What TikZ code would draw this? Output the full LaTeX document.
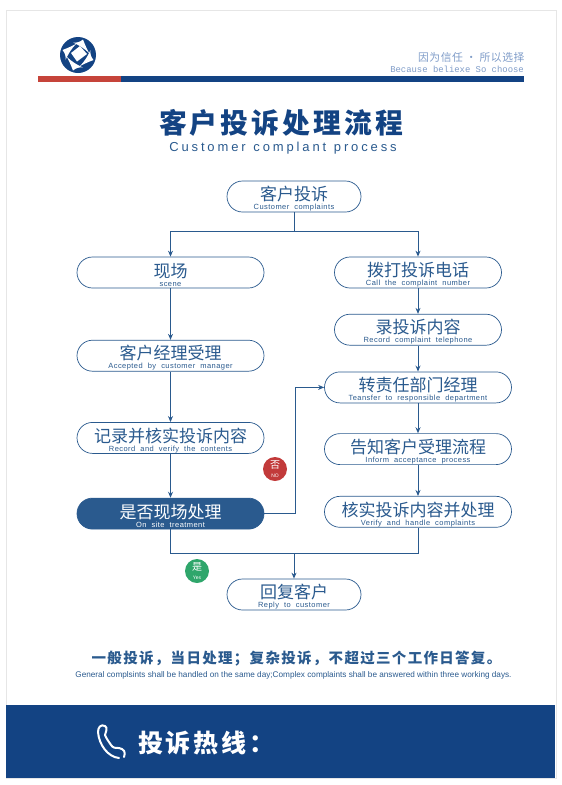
\documentclass[tikz,border=0pt]{standalone}
\usepackage{fontspec}
\usepackage{xcolor}
\usepackage{tikz}
\usetikzlibrary{arrows.meta, positioning, calc}
\setmainfont{Liberation Sans}
\newfontfamily\zhfont{Noto Sans CJK SC}
\newfontfamily\enfont[LetterSpace=6,WordSpace=2]{Liberation Sans}
\newfontfamily\titleen[LetterSpace=22,WordSpace=1.2]{Liberation Sans}
\newfontfamily\titlezh[LetterSpace=11]{Noto Sans CJK SC}
\newfontfamily\notezh[LetterSpace=9]{Noto Sans CJK SC}
\newfontfamily\sloganzh[LetterSpace=5]{Noto Sans CJK SC}
\newfontfamily\sloganen{Liberation Mono}
\definecolor{navyblue}{HTML}{134383}
\definecolor{flowblue}{HTML}{2A5A8E}
\definecolor{paleblue}{HTML}{7F9CC8}
\definecolor{barred}{HTML}{C6443A}
\definecolor{nored}{HTML}{C23A3A}
\definecolor{yesgreen}{HTML}{2FA66B}
\definecolor{edgegrey}{HTML}{E6E6E6}
\tikzstyle{flowbox} = [rectangle, rounded corners=15.5pt, minimum width=187pt, minimum height=31pt,
  inner sep=0pt, align=center, draw=flowblue, fill=white, text=flowblue, line width=0.7pt]
\tikzstyle{shortbox} = [flowbox, minimum width=134pt]
\tikzstyle{midbox} = [flowbox, minimum width=167pt]
\tikzstyle{darkbox} = [flowbox, fill=flowblue, text=white]
\tikzstyle{badge} = [circle, minimum size=24pt, inner sep=0pt, align=center, text=white]
\tikzstyle{arrow} = [draw=flowblue, line width=0.9pt, -{Stealth[length=6pt,width=5pt]}]
\tikzstyle{line} = [draw=flowblue, line width=0.9pt]
\newcommand{\flowtext}[2]{{\zhfont\fontsize{17}{17}\selectfont\rule{0pt}{19pt}#1}\\[-3pt]{\enfont\fontsize{7.5}{8}\selectfont #2}}

\begin{document}
\begin{tikzpicture}[x=1pt, y=-1pt]
  \useasboundingbox (0,0) rectangle (562,785);
  \draw[edgegrey, line width=0.8pt] (6,10) rectangle (556,778);

  % header
  \fill[barred] (38,76) rectangle (121,82);
  \fill[navyblue] (121,76) rectangle (524,82);
  \fill[navyblue] (78,55) circle (18);
  \fill[white] (80,46) -- (87,54) -- (77,61.5) -- (71,53) -- cycle;
  \foreach \a in {0,90,180,270} {
    \fill[white, rotate around={\a:(78,55)}] (62.5,50) .. controls (69,47.5) and (72,46) .. (76,44)
      .. controls (72,48) and (68,54) .. (65.5,60) .. controls (66,56) and (65,53) .. (62.5,50) -- cycle;
  }
  \node (slogan) [anchor=east, text=paleblue, font=\sloganzh\fontsize{10.8}{12}\selectfont] at (528,57) {因为信任 · 所以选择};
  \node (sloganen) [anchor=east, text=paleblue, font=\sloganen\fontsize{8.9}{10}\selectfont, inner sep=0pt] at (524,69) {Because beliexe So choose};
  \node (title) [text=navyblue, font=\titlezh\bfseries\fontsize{27.8}{30}\selectfont, inner sep=0pt] at (281,123) {客户投诉处理流程};
  \node (subtitle) [text=flowblue, font=\titleen\fontsize{13}{14}\selectfont, inner sep=0pt] at (283,148) {Customer complant process};

  % flow nodes
  \node (complaint) [shortbox] at (294,196.5) {\flowtext{客户投诉}{Customer complaints}};
  \node (scene) [flowbox] at (170.5,272.5) {\flowtext{现场}{scene}};
  \node (manager) [flowbox, below=51.5pt of scene] {\flowtext{客户经理受理}{Accepted by customer manager}};
  \node (record) [flowbox, below=50.5pt of manager] {\flowtext{记录并核实投诉内容}{Record and verify the contents}};
  \node (onsite) [darkbox, below=44pt of record] {\flowtext{是否现场处理}{On site treatment}};
  \node (reply) [shortbox] at (294,594.5) {\flowtext{回复客户}{Reply to customer}};
  \node (call) [midbox] at (418,272.5) {\flowtext{拨打投诉电话}{Call the complaint number}};
  \node (content) [midbox, below=25.5pt of call] {\flowtext{录投诉内容}{Record complaint telephone}};
  \node (transfer) [flowbox, below=26pt of content] {\flowtext{转责任部门经理}{Teansfer to responsible department}};
  \node (inform) [flowbox, below=30pt of transfer] {\flowtext{告知客户受理流程}{Inform acceptance process}};
  \node (verify) [flowbox, below=31pt of inform] {\flowtext{核实投诉内容并处理}{Verify and handle complaints}};
  \node (nobadge) [badge, fill=nored] at (275,469) {{\zhfont\fontsize{10}{10}\selectfont 否}\\[-3pt]{\fontsize{5}{5}\selectfont NO}};
  \node (yesbadge) [badge, fill=yesgreen] at (197,571) {{\zhfont\fontsize{10}{10}\selectfont 是}\\[-3pt]{\fontsize{5}{5}\selectfont Yes}};

  \coordinate (split) at ($(complaint.south)+(0,19)$);
  \coordinate (merge) at ($(reply.north)+(0,-25)$);

  \draw[line]  (complaint.south) -- (split);
  \draw[arrow] (split) -| (scene.north);
  \draw[arrow] (split) -| (call.north);
  \draw[arrow] (scene) -- (manager);
  \draw[arrow] (manager) -- (record);
  \draw[arrow] (record) -- (onsite);
  \draw[arrow] (call) -- (content);
  \draw[arrow] (content) -- (transfer);
  \draw[arrow] (transfer) -- (inform);
  \draw[arrow] (inform) -- (verify);
  \draw[arrow] (onsite.east) -- ++(31,0) |- (transfer.west);
  \draw[line]  (onsite.south) |- (merge);
  \draw[line]  (verify.south) |- (merge);
  \draw[arrow] (merge) -- (reply.north);

  % note and hotline
  \node (note) [text=flowblue, font=\notezh\bfseries\fontsize{14.5}{16}\selectfont, inner sep=0pt] at (296.5,659) {一般投诉，当日处理；复杂投诉，不超过三个工作日答复。};
  \node (noteen) [text=flowblue, font=\fontsize{8.2}{9}\selectfont, inner sep=0pt] at (293.5,675) {General complsints shall be handled on the same day;Complex complaints shall be answered within three working days.};
  \fill[navyblue] (6,705) rectangle (555,778);
  \draw[white, line width=2pt, line cap=round, line join=round] (124,757) .. controls (126,752) and (124,749) .. (119,748)
    .. controls (115,748) and (113,748) .. (111,745) .. controls (109,742) and (106,738) .. (105,735)
    .. controls (106,731) and (108,728) .. (105,726) .. controls (101,724) and (98,727) .. (98,732)
    .. controls (99,745) and (108,757) .. (119,758);
  \node (hotline) [anchor=west, text=white, font=\titlezh\bfseries\fontsize{25}{28}\selectfont, inner sep=0pt] at (138,743) {投诉热线：};
\end{tikzpicture}
\end{document}
